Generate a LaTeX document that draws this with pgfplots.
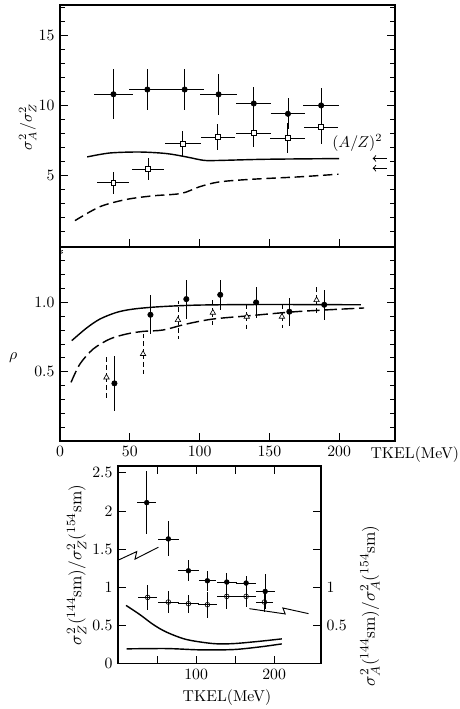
\documentclass[border=0pt]{standalone}
\usepackage{pgfplots}
\pgfplotsset{compat=1.18}

\pgfplotsset{
  panel/.style={scale only axis, anchor=south west,
    axis line style={line width=0.7pt},
    every tick/.style={black, line width=0.5pt},
    major tick length=5pt, minor tick length=3pt, tick align=inside},
  errs/.style={error bars/.cd, x dir=both, x explicit, y dir=both, y explicit,
    error mark=none, error bar style={line width=0.5pt, black}},
  curve/.style={black, line width=0.9pt, smooth, no marks},
  dcurve/.style={curve, dash pattern=on 6pt off 3pt},
}

\begin{document}
\begin{tikzpicture}
\path[use as bounding box] (0,0) rectangle (292.1pt,450.22pt);

% --- top panel: sigma_A^2 / sigma_Z^2
\begin{axis}[panel, at={(38.10pt,293.37pt)}, width=212.73pt, height=153.67pt,
  xmin=0, xmax=240, ymin=-0.15, ymax=17.2,
  xtick={50,100,150,200}, xticklabels={}, xtick pos=bottom,
  ytick={5,10,15}, minor ytick={1,2,...,17}, ytick pos=both, yticklabel pos=left]
\addplot[curve] coordinates {(19.5,6.31) (35.7,6.59) (57.1,6.66) (76.2,6.55) (90.5,6.31)
  (102.4,6.07) (111.4,6.05) (147.6,6.14) (200,6.19)};
\addplot[dcurve] coordinates {(10.7,1.74) (28.6,2.74) (47.6,3.26) (66.7,3.52) (86.9,3.69)
  (100,4.17) (114.3,4.52) (138.1,4.71) (171.4,4.88) (199.5,5.07)};
\addplot[only marks, mark=*, mark size=1.7pt, black, errs]
  table[x=x, y=y, x error=ex, y error=ey] {
x     y      ex    ey
38.3  10.8   13.7  1.8
62.6  11.14  13.0  1.45
89.3  11.14  13.7  1.5
113.6 10.79  13.0  1.45
138.8 10.14  12.5  1.2
163.3 9.4    12.0  1.1
187.1 10.0   13.0  1.25
};
\addplot[only marks, mark=square*, mark size=1.5pt, black, mark options={fill=white}, errs]
  table[x=x, y=y, x error=ex, y error=ey] {
x     y      ex    ey
38.1  4.45   11.3  0.8
63.1  5.43   11.3  0.8
87.9  7.26   12.9  0.9
113.1 7.74   12.0  0.95
138.6 8.02   12.7  1.0
163.1 7.67   12.5  1.07
187.1 8.45   12.4  1.2
};
\node at (axis cs:213,7.3) {$(A/Z)^2$};
\draw[<-, line width=0.6pt] (axis cs:224,6.2) -- (axis cs:234,6.2);
\draw[<-, line width=0.6pt] (axis cs:224,5.5) -- (axis cs:234,5.5);
\end{axis}

% --- middle panel: rho
\begin{axis}[panel, at={(38.10pt,170.18pt)}, width=212.73pt, height=123.19pt,
  xmin=0, xmax=240, ymin=0, ymax=1.4,
  xtick={0,50,100,150,200}, xtick pos=bottom,
  ytick={0.5,1.0}, minor ytick={0.1,0.2,0.3,0.4,0.6,0.7,0.8,0.9,1.1,1.2,1.3},
  ytick pos=both, yticklabel pos=left,
  yticklabel style={/pgf/number format/.cd, fixed, fixed zerofill, precision=1}]
\addplot[curve] coordinates {(8.4,0.724) (19,0.815) (28.6,0.88) (40.5,0.928) (52.4,0.952)
  (71.4,0.969) (100,0.981) (147.6,0.985) (215.5,0.983)};
\addplot[dcurve, dash pattern=on 8pt off 3pt] coordinates {(7.9,0.423) (14.3,0.556) (23.8,0.664)
  (35.7,0.736) (47.6,0.772) (59.5,0.791) (73.8,0.801) (90.5,0.844) (109.5,0.88)
  (135.7,0.904) (171.4,0.935) (217.9,0.96)};
\addplot[only marks, mark=*, mark size=1.7pt, black,
  error bars/.cd, y dir=both, y explicit, error mark=none,
  error bar style={line width=0.5pt, black}]
  table[x=x, y=y, y error=ey] {
x     y      ey
39.0  0.416  0.2
64.8  0.911  0.14
90.5  1.024  0.14
114.8 1.055  0.11
140.5 1.0    0.11
164.3 0.933  0.1
189.3 0.983  0.11
};
\addplot[only marks, mark=triangle*, mark size=2pt, black, mark options={fill=white},
  error bars/.cd, y dir=both, y explicit, error mark=none,
  error bar style={line width=0.5pt, black, densely dashed}]
  table[x=x, y=y, y error=ey] {
x     y      ey
33.3  0.459  0.17
59.5  0.628  0.15
84.5  0.873  0.14
109.5 0.926  0.11
133.8 0.897  0.1
159.0 0.897  0.085
183.8 1.017  0.11
};
% axis break mark
\draw[line width=0.5pt] (axis cs:-2,1.36) -- (axis cs:2,1.375);
\draw[line width=0.5pt] (axis cs:-2,1.345) -- (axis cs:2,1.36);
\end{axis}

% --- bottom panel: ratios 144Sm / 154Sm
\begin{axis}[panel, at={(74.93pt,28.89pt)}, width=128.91pt, height=125.41pt,
  xmin=0, xmax=260, ymin=0, ymax=2.59,
  xtick={50,100,150,200}, xticklabels={,100,,200}, xtick pos=both, xticklabel pos=lower,
  ytick={0,0.5,...,2.5}, ytick pos=left]
\addplot[curve] coordinates {(10.3,0.762) (28.2,0.64) (45.3,0.51) (62.4,0.41) (88,0.314)
  (122.2,0.261) (147.9,0.261) (182,0.292) (209.8,0.323)};
\addplot[curve] coordinates {(11.1,0.192) (62.4,0.196) (105,0.179) (148,0.183) (182,0.218)
  (209.8,0.257)};
\addplot[only marks, mark=*, mark size=1.5pt, black, errs]
  table[x=x, y=y, x error=ex, y error=ey] {
x     y      ex    ey
36.8  2.11   12.0  0.41
64.5  1.634  13.8  0.23
90.2  1.216  13.6  0.14
114.5 1.085  11.0  0.13
139.3 1.068  13.0  0.12
164.1 1.055  12.8  0.09
188.5 0.945  12.2  0.23
};
\addplot[only marks, mark=o, mark size=1.5pt, black, mark options={fill=white}, errs]
  table[x=x, y=y, x error=ex, y error=ey] {
x     y      ex    ey
38.0  0.867  11.8  0.16
64.5  0.806  13.0  0.14
90.2  0.784  13.0  0.12
114.5 0.771  12.0  0.17
139.3 0.88   13.0  0.17
164.1 0.88   12.8  0.14
187.6 0.806  11.0  0.13
};
\draw[line width=0.6pt] (axis cs:1.3,1.36) -- (axis cs:24,1.468) -- (axis cs:21.8,1.369) -- (axis cs:51.7,1.525);
\draw[line width=0.6pt] (axis cs:168.3,0.719) -- (axis cs:214.1,0.65) -- (axis cs:211.2,0.728) -- (axis cs:244,0.654);
\end{axis}
\begin{axis}[panel, at={(74.93pt,28.89pt)}, width=128.91pt, height=125.41pt,
  xmin=0, xmax=260, ymin=0, ymax=2.59, hide x axis, axis y line*=right,
  ytick={0.5,1,1.5,2}, yticklabels={0.5,1,,}]
\end{axis}

% --- labels
\node[rotate=90] at (17.6pt,369.6pt) {$\sigma_A^2/\sigma_Z^2$};
\node at (8.3pt,222.9pt) {$\rho$};
\node[anchor=west] at (231.8pt,161.3pt) {TKEL(MeV)};
\node[rotate=90, font=\fontsize{10.8}{13}\selectfont] at (48.7pt,91.4pt)
  {$\sigma_Z^2({}^{144}\mathrm{sm})/\sigma_Z^2({}^{154}\mathrm{sm})$};
\node[rotate=90, font=\fontsize{10.8}{13}\selectfont] at (234.95pt,65.4pt)
  {$\sigma_A^2({}^{144}\mathrm{sm})/\sigma_A^2({}^{154}\mathrm{sm})$};
\node at (144.1pt,7.0pt) {TKEL(MeV)};
\end{tikzpicture}
\end{document}
